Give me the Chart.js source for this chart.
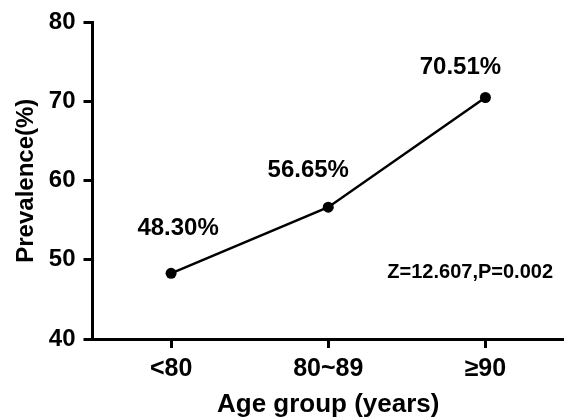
<!DOCTYPE html>
<html>
<head>
<meta charset="utf-8">
<script src="https://cdn.jsdelivr.net/npm/chart.js@4"></script>
<style>
  html, body { margin: 0; padding: 0; background: #fff; }
  canvas { display: block; }
</style>
</head>
<body>
<canvas id="myChart" width="564" height="418"></canvas>
<script>
// data
const ageGroups = ['<80', '80~89', '≥90'];
const prevalence = [48.30, 56.65, 70.51];
const yTicks = [40, 50, 60, 70, 80];
const statText = 'Z=12.607,P=0.002';

const FONT = 'Liberation Sans, Arial, Helvetica, sans-serif';

// draws the "48.30%" style labels next to each point + the test result
const pointLabels = {
  id: 'pointLabels',
  afterDatasetsDraw(chart) {
    const ctx = chart.ctx;
    const meta = chart.getDatasetMeta(0);
    const shifts = [[7, -45], [-20, -37], [-25, -30]];
    ctx.save();
    ctx.fillStyle = '#000';
    ctx.font = 'bold 24px ' + FONT;
    ctx.textAlign = 'center';
    ctx.textBaseline = 'middle';
    meta.data.forEach((pt, i) => {
      const s = shifts[i] || [0, -30];
      ctx.fillText(prevalence[i].toFixed(2) + '%', pt.x + s[0], pt.y + s[1]);
    });
    const y = chart.scales.y;
    ctx.font = 'bold 20px ' + FONT;
    ctx.textAlign = 'right';
    ctx.fillText(statText, chart.chartArea.right - 11, y.getPixelForValue(48.4));
    ctx.restore();
  }
};

new Chart(document.getElementById('myChart'), {
  type: 'line',
  data: {
    labels: ageGroups,
    datasets: [{
      data: prevalence,
      borderColor: '#000',
      backgroundColor: '#000',
      borderWidth: 2.5,
      pointRadius: 5.5,
      pointHoverRadius: 5.5,
      pointBackgroundColor: '#000',
      pointBorderWidth: 0,
      tension: 0,
      fill: false
    }]
  },
  options: {
    responsive: false,
    animation: false,
    layout: {
      autoPadding: false, // let the x axis run right up to the edge
      padding: { left: 8, top: 19.6, right: 0, bottom: 0 }
    },
    plugins: {
      legend: { display: false },
      tooltip: { enabled: false }
    },
    scales: {
      x: {
        type: 'category',
        offset: true,
        border: { color: '#000', width: 3 },
        grid: {
          offset: false,
          drawOnChartArea: false,
          drawTicks: true,
          tickLength: 9,
          color: '#000',
          lineWidth: 3
        },
        ticks: {
          color: '#000',
          padding: 6,
          font: { family: FONT, size: 25, weight: 'bold' }
        },
        title: {
          display: true,
          text: 'Age group (years)',
          color: '#000',
          padding: { top: 2, bottom: 0 },
          font: { family: FONT, size: 26, weight: 'bold', lineHeight: 1 }
        }
      },
      y: {
        min: 40,
        max: 80,
        border: { color: '#000', width: 3 },
        grid: {
          drawOnChartArea: false,
          drawTicks: true,
          tickLength: 9,
          color: '#000',
          lineWidth: 3
        },
        afterBuildTicks(axis) {
          axis.ticks = yTicks.map(v => ({ value: v }));
        },
        ticks: {
          color: '#000',
          padding: 8,
          font: { family: FONT, size: 24, weight: 'bold' }
        },
        title: {
          display: true,
          text: 'Prevalence(%)',
          color: '#000',
          padding: { top: 4, bottom: 0 },
          font: { family: FONT, size: 24, weight: 'bold' }
        }
      }
    }
  },
  plugins: [pointLabels]
});
</script>
</body>
</html>
